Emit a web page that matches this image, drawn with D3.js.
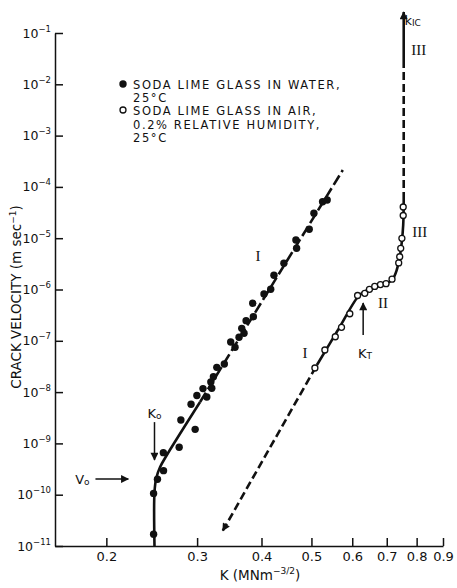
<!DOCTYPE html>
<html lang="en">
<head>
<meta charset="UTF-8">
<title>Crack velocity vs K, soda lime glass</title>
<script src="https://d3js.org/d3.v7.min.js"></script>
<style>
  body { margin: 0; background: #fff; }
  svg { display: block; font-family: "DejaVu Sans", sans-serif; fill: #111; }
  .axis path, .axis line { stroke: #111; stroke-width: 1.5; }
  .axis text { font-family: "DejaVu Sans", sans-serif; font-size: 13px; fill: #111; }
  .roman { font-family: "Liberation Serif", serif; font-size: 15px; }
</style>
</head>
<body>
<svg id="chart" width="457" height="588"></svg>
<script>
// soda lime glass in water, 25 C (filled points)
const waterK = [0.247, 0.247, 0.2513, 0.2582, 0.258, 0.2769, 0.2974, 0.279, 0.292, 0.2997,
                0.3133, 0.308, 0.3203, 0.319, 0.3227, 0.3276, 0.3388, 0.3486, 0.3554, 0.3618,
                0.3662, 0.37, 0.3734, 0.3857, 0.3846, 0.4045, 0.4168, 0.4229, 0.4421, 0.4679,
                0.4665, 0.4951, 0.5056, 0.5255, 0.5364];
const waterV = [1.7e-11, 1.06e-10, 2.0e-10, 2.94e-10, 6.6e-10, 8.4e-10, 1.88e-9, 2.86e-9, 5.78e-9, 8.6e-9,
                8.0e-9, 1.17e-8, 1.19e-8, 1.57e-8, 2.0e-8, 3.04e-8, 3.53e-8, 9.5e-8, 7.47e-8, 1.17e-7,
                1.75e-7, 1.4e-7, 2.47e-7, 2.95e-7, 5.38e-7, 8.17e-7, 1.01e-6, 1.89e-6, 3.24e-6, 6.35e-6,
                9.2e-6, 1.49e-5, 3.06e-5, 5.14e-5, 5.56e-5];

// soda lime glass in air, 0.2% RH, 25 C (open points)
const airK = [0.5078, 0.5309, 0.5562, 0.5719, 0.5935, 0.6145, 0.6346, 0.6479, 0.6634, 0.6806,
              0.6978, 0.7167, 0.7384, 0.7417, 0.7451, 0.749, 0.7534, 0.7534];
const airV = [2.95e-8, 6.62e-8, 1.2e-7, 1.83e-7, 3.37e-7, 7.64e-7, 8.43e-7, 1.01e-6, 1.15e-6, 1.25e-6,
              1.3e-6, 1.59e-6, 3.29e-6, 4.35e-6, 6.35e-6, 9.95e-6, 2.77e-5, 4.06e-5];

// drawn curves
const waterSolidK = [0.248, 0.248, 0.25, 0.2543, 0.2614, 0.304];
const waterSolidV = [1e-11, 1.13e-10, 2.12e-10, 3.47e-10, 5.68e-10, 6.4e-9];
const waterDashK = [0.304, 0.5752];
const waterDashV = [6.4e-9, 2.13e-4];

const airDashK = [0.3365, 0.5124];
const airDashV = [1.99e-11, 3.37e-8];
const airSolidK = [0.5124, 0.5613, 0.615, 0.6317, 0.6546, 0.6815, 0.7031, 0.7191, 0.7319, 0.7417, 0.7483, 0.7534, 0.7551];
const airSolidV = [3.37e-8, 1.55e-7, 7.15e-7, 8.93e-7, 1.07e-6, 1.2e-6, 1.34e-6, 1.6e-6, 2.4e-6, 4.3e-6, 8.05e-6, 1.81e-5, 5.56e-5];
const airTopDashK = [0.7551, 0.7551];
const airTopDashV = [5.56e-5, 2.08e-2];
const airTopK = [0.7551, 0.7551];
const airTopV = [2.08e-2, 0.257];

// ticks
const xTicks = [0.2, 0.3, 0.4, 0.5, 0.6, 0.7, 0.8, 0.9];
const yExps = [-1, -2, -3, -4, -5, -6, -7, -8, -9, -10, -11];

const svg = d3.select("#chart");

const x = d3.scaleLog().domain([0.159, 0.9]).range([55, 443]);
const y = d3.scaleLog().domain([1e-11, 1e-1]).range([546, 33]);

// arrowhead
const defs = svg.append("defs");
defs.append("marker")
    .attr("id", "head")
    .attr("viewBox", "0 0 10 10")
    .attr("refX", 9).attr("refY", 5)
    .attr("markerWidth", 9).attr("markerHeight", 8)
    .attr("markerUnits", "userSpaceOnUse")
    .attr("orient", "auto-start-reverse")
    .append("path").attr("d", "M0,0 L10,5 L0,10 Z").attr("fill", "#111");

// axes
svg.append("g").attr("class", "axis")
   .attr("transform", "translate(0,546)")
   .call(d3.axisBottom(x).tickValues(xTicks).tickSizeInner(-8).tickSizeOuter(0)
          .tickPadding(6).tickFormat(d3.format(".1f")));

svg.append("g").attr("class", "axis")
   .attr("transform", "translate(55,0)")
   .call(d3.axisLeft(y).tickValues(yExps.map(e => Math.pow(10, e)))
          .tickSizeInner(-8).tickSizeOuter(0).tickFormat(""));

// y tick labels 10^n
const yl = svg.append("g").selectAll("text")
   .data(yExps).enter().append("text")
   .attr("x", 51)
   .attr("y", e => y(Math.pow(10, e)) + 4.5)
   .attr("text-anchor", "end")
   .style("font-size", "12.5px");
yl.append("tspan").text("10");
yl.append("tspan").attr("dy", -6).style("font-size", "8.5px").text(e => "\u2212" + (-e));

// axis titles
const xt = svg.append("text").attr("x", 260).attr("y", 580)
   .attr("text-anchor", "middle").style("font-size", "13.5px");
xt.append("tspan").text("K (MNm");
xt.append("tspan").attr("dy", -6).style("font-size", "9px").text("\u22123/2");
xt.append("tspan").attr("dy", 6).text(")");

const yt = svg.append("text")
   .attr("transform", "translate(21,297) rotate(-90)")
   .attr("text-anchor", "middle").style("font-size", "13.5px");
yt.append("tspan").text("CRACK VELOCITY (m sec");
yt.append("tspan").attr("dy", -5).style("font-size", "9px").text("\u22121");
yt.append("tspan").attr("dy", 5).text(")");

// curves
const line = d3.line().x(d => x(d[0])).y(d => y(d[1])).curve(d3.curveCatmullRom.alpha(0.5));
const pairs = (ks, vs) => ks.map((k, i) => [k, vs[i]]);

function curve(ks, vs, dash, markerStart, markerEnd) {
  const p = svg.append("path")
     .datum(pairs(ks, vs))
     .attr("d", line)
     .attr("fill", "none")
     .attr("stroke", "#111")
     .attr("stroke-width", 2.6);
  if (dash) p.attr("stroke-dasharray", dash);
  if (markerStart) p.attr("marker-start", "url(#head)");
  if (markerEnd) p.attr("marker-end", "url(#head)");
  return p;
}

curve(waterSolidK, waterSolidV);
curve(waterDashK, waterDashV, "11,4");
curve(airDashK, airDashV, "8,4", true);
curve(airSolidK, airSolidV);
curve(airTopDashK, airTopDashV, "8,4");
curve(airTopK, airTopV, null, false, true);

// points
svg.append("g").selectAll("circle")
   .data(pairs(waterK, waterV)).enter().append("circle")
   .attr("cx", d => x(d[0])).attr("cy", d => y(d[1]))
   .attr("r", 3.7).attr("fill", "#111");

svg.append("g").selectAll("circle")
   .data(pairs(airK, airV)).enter().append("circle")
   .attr("cx", d => x(d[0])).attr("cy", d => y(d[1]))
   .attr("r", 3).attr("fill", "#fff").attr("stroke", "#111").attr("stroke-width", 1.3);

// legend
const legend = svg.append("g").style("font-size", "11.5px").style("letter-spacing", "1.6px");
legend.append("circle").attr("cx", 123).attr("cy", 84).attr("r", 3.7).attr("fill", "#111");
legend.append("circle").attr("cx", 123).attr("cy", 110).attr("r", 3)
      .attr("fill", "#fff").attr("stroke", "#111").attr("stroke-width", 1.3);
const legendLines = ["SODA LIME GLASS IN WATER,", "25\u00B0C", "SODA LIME GLASS IN AIR,",
                     "0.2% RELATIVE HUMIDITY,", "25\u00B0C"];
const legendY = [88.5, 101.9, 115.3, 128.7, 142.1];
legend.selectAll("text").data(legendLines).enter().append("text")
      .attr("x", 133).attr("y", (d, i) => legendY[i]).text(d => d);

// annotation arrows
function arrow(k1, v1, k2, v2) {
  svg.append("line")
     .attr("x1", x(k1)).attr("y1", y(v1)).attr("x2", x(k2)).attr("y2", y(v2))
     .attr("stroke", "#111").attr("stroke-width", 1.5)
     .attr("marker-end", "url(#head)");
}
arrow(0.248, 2.6e-9, 0.248, 4.75e-10);   // K0
arrow(0.1905, 2.02e-10, 0.2206, 2.02e-10); // V0
arrow(0.63, 1.3e-7, 0.63, 5.46e-7);      // KT

// labels
function label(k, v, parts, cls) {
  const t = svg.append("text").attr("x", x(k)).attr("y", y(v))
     .attr("text-anchor", "middle").attr("dominant-baseline", "central");
  if (cls) t.attr("class", cls);
  parts.forEach(p => {
    const s = t.append("tspan").text(p.t);
    if (p.sub) s.attr("dy", 3).style("font-size", "9px");
  });
  if (!cls) t.style("font-size", "13px");
}
label(0.248, 3.9e-9, [{t: "K"}, {t: "o", sub: true}]);
label(0.1797, 2.02e-10, [{t: "V"}, {t: "o", sub: true}]);
label(0.635, 5.8e-8, [{t: "K"}, {t: "T", sub: true}]);
label(0.786, 0.179, [{t: "k"}, {t: "IC", sub: true}]);
label(0.3937, 4.5e-6, [{t: "I"}], "roman");
label(0.4857, 5.8e-8, [{t: "I"}], "roman");
label(0.6885, 5.4e-7, [{t: "II"}], "roman");
label(0.811, 1.32e-5, [{t: "III"}], "roman");
label(0.808, 0.0467, [{t: "III"}], "roman");
</script>
</body>
</html>
